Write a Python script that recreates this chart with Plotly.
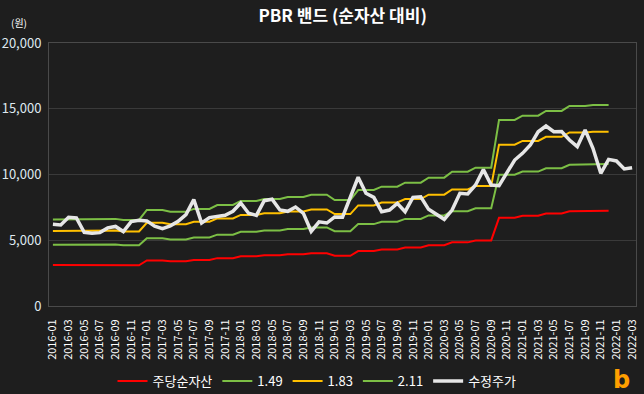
import plotly.graph_objects as go

months = [
    "2016-01","2016-02","2016-03","2016-04","2016-05","2016-06","2016-07","2016-08","2016-09","2016-10","2016-11","2016-12",
    "2017-01","2017-02","2017-03","2017-04","2017-05","2017-06","2017-07","2017-08","2017-09","2017-10","2017-11","2017-12",
    "2018-01","2018-02","2018-03","2018-04","2018-05","2018-06","2018-07","2018-08","2018-09","2018-10","2018-11","2018-12",
    "2019-01","2019-02","2019-03","2019-04","2019-05","2019-06","2019-07","2019-08","2019-09","2019-10","2019-11","2019-12",
    "2020-01","2020-02","2020-03","2020-04","2020-05","2020-06","2020-07","2020-08","2020-09","2020-10","2020-11","2020-12",
    "2021-01","2021-02","2021-03","2021-04","2021-05","2021-06","2021-07","2021-08","2021-09","2021-10","2021-11","2021-12",
    "2022-01","2022-02","2022-03",
]

tick_labels = months[::2]

bps = [
    3120,3120,3120, 3130,3130,3130, 3140,3140,3140, 3100,3100,3100,
    3460,3460,3460, 3400,3400,3400, 3500,3500,3500, 3640,3640,3640,
    3785,3785,3785, 3855,3855,3855, 3930,3930,3930, 4010,4010,4010,
    3820,3820,3820, 4180,4180,4180, 4300,4300,4300, 4445,4445,4445,
    4625,4625,4625, 4840,4840,4840, 4985,4985,4985, 6705,6705,6705,
    6860,6860,6860, 7030,7030,7030, 7210,7210,7210, 7245,7245,7245,
]

band_149 = [
    4649,4649,4649, 4664,4664,4664, 4679,4679,4679, 4619,4619,4619,
    5155,5155,5155, 5066,5066,5066, 5215,5215,5215, 5424,5424,5424,
    5640,5640,5640, 5744,5744,5744, 5856,5856,5856, 5975,5975,5975,
    5692,5692,5692, 6228,6228,6228, 6407,6407,6407, 6623,6623,6623,
    6891,6891,6891, 7212,7212,7212, 7428,7428,7428, 9990,9990,9990,
    10221,10221,10221, 10475,10475,10475, 10743,10743,10743, 10795,10795,10795,
]

band_183 = [
    5710,5710,5710, 5728,5728,5728, 5746,5746,5746, 5673,5673,5673,
    6332,6332,6332, 6222,6222,6222, 6405,6405,6405, 6661,6661,6661,
    6927,6927,6927, 7055,7055,7055, 7192,7192,7192, 7338,7338,7338,
    6991,6991,6991, 7649,7649,7649, 7869,7869,7869, 8134,8134,8134,
    8464,8464,8464, 8857,8857,8857, 9123,9123,9123, 12270,12270,12270,
    12554,12554,12554, 12865,12865,12865, 13194,13194,13194, 13258,13258,13258,
]

band_211 = [
    6583,6583,6583, 6604,6604,6604, 6625,6625,6625, 6541,6541,6541,
    7301,7301,7301, 7174,7174,7174, 7385,7385,7385, 7680,7680,7680,
    7986,7986,7986, 8134,8134,8134, 8292,8292,8292, 8461,8461,8461,
    8060,8060,8060, 8820,8820,8820, 9073,9073,9073, 9379,9379,9379,
    9759,9759,9759, 10212,10212,10212, 10518,10518,10518, 14148,14148,14148,
    14475,14475,14475, 14833,14833,14833, 15213,15213,15213, 15287,15287,15287,
]

price = [
    6210, 6160, 6740, 6690, 5600, 5530, 5580, 5940, 6050, 5660, 6420, 6520,
    6470, 6070, 5880, 6100, 6440, 6950, 8090, 6310, 6720, 6790, 6900, 7200,
    7830, 7050, 6890, 8010, 8120, 7300, 7200, 7530, 7050, 5670, 6400, 6310,
    6770, 6760, 8300, 9790, 8570, 8260, 7170, 7300, 7810, 7170, 8260, 8310,
    7350, 6970, 6590, 7300, 8570, 8520, 9200, 10370, 9200, 9150, 10090, 11100,
    11610, 12240, 13250, 13690, 13250, 13260, 12620, 12120, 13380, 11990, 10090, 11150,
    11030, 10420, 10520,
]

series_names = ["주당순자산", "1.49", "1.83", "2.11", "수정주가"]
colors = ["#ff0000", "#7cbf45", "#ffc000", "#7cbf45", "#e6e6e6"]

FONT = "Noto Sans CJK KR"
band_x = months[:len(bps)]

W, H = 644, 394
ML, MR, MT, MB = 49, 8, 43, 88
PW, PH = W - ML - MR, H - MT - MB

fig = go.Figure()
for name, ys, col in zip(series_names[:4], [bps, band_149, band_183, band_211], colors[:4]):
    fig.add_trace(go.Scatter(x=band_x, y=ys, mode="lines", name=name,
                             line=dict(color=col, width=2)))
fig.add_trace(go.Scatter(x=months, y=price, mode="lines", name=series_names[4],
                         line=dict(color=colors[4], width=3.5)))

fig.update_layout(
    width=W, height=H,
    paper_bgcolor="#1e1e1e", plot_bgcolor="#1e1e1e",
    margin=dict(l=ML, r=MR, t=MT, b=MB, autoexpand=False),
    font=dict(family=FONT, color="#e8e8e8", size=13),
    title=dict(text="<b>PBR 밴드 (순자산 대비)</b>", x=0.532, xanchor="center",
               y=1 - 16 / H, yanchor="middle", font=dict(size=17, color="#ffffff", family=FONT)),
    showlegend=True,
    legend=dict(orientation="h", x=(317 - ML) / PW, xanchor="center",
                yref="container", y=1 - 381 / H, yanchor="middle",
                font=dict(size=13, color="#ffffff", family=FONT), bgcolor="rgba(0,0,0,0)",
                itemwidth=30, tracegroupgap=0),
    xaxis=dict(type="category", categoryorder="array", categoryarray=months,
               tickmode="array", tickvals=tick_labels, ticktext=tick_labels,
               tickangle=-90, tickfont=dict(size=11, color="#ffffff", family=FONT),
               showgrid=False, showline=True, linecolor="#4a4a4a", linewidth=1, mirror=True,
               ticks="", range=[-0.5, len(months) - 0.5], zeroline=False, automargin=False,
               ticklabelstandoff=8),
    yaxis=dict(range=[0, 20000], tickvals=[0, 5000, 10000, 15000, 20000], tickformat=",",
               tickfont=dict(size=13, color="#dfe8f0", family=FONT),
               showgrid=True, gridcolor="#3a3a3a", gridwidth=1,
               showline=True, linecolor="#4a4a4a", linewidth=1, mirror=True,
               zeroline=False, ticks="", ticklabelstandoff=4, automargin=False),
    annotations=[
        dict(text="(원)", x=(19 - ML) / PW, y=(MT + PH - 22) / PH, xref="paper", yref="paper",
             showarrow=False, xanchor="center", yanchor="middle",
             font=dict(size=10, color="#ffffff", family=FONT)),
        dict(text="<b>b</b>", x=(621 - ML) / PW, y=(MT + PH - 380) / PH, xref="paper", yref="paper",
             showarrow=False, xanchor="center", yanchor="middle",
             font=dict(size=24, color="#ff9f00", family="DejaVu Sans")),
    ],
)

fig.write_html("out.html", config={"displayModeBar": False},
               post_script="document.body.style.margin='0px';document.body.style.overflow='hidden';")
